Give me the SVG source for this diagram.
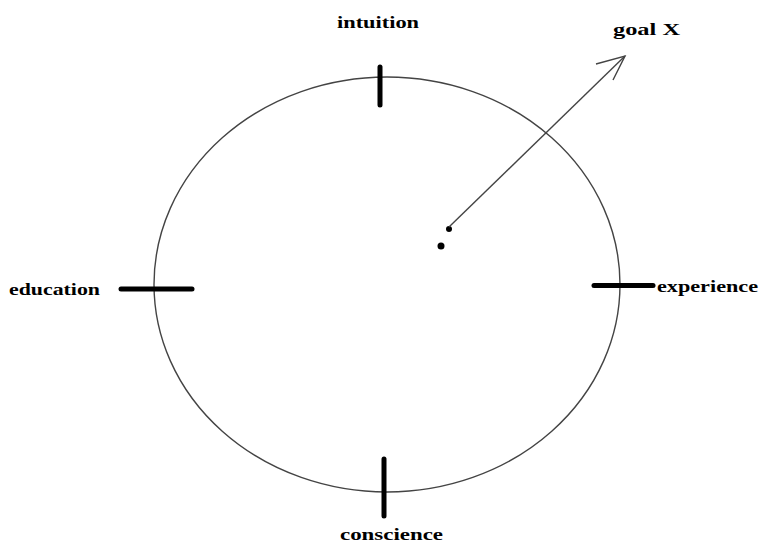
<svg xmlns="http://www.w3.org/2000/svg" width="759" height="543" viewBox="0 0 759 543">
<style>
.lbl{font-family:"Liberation Serif","Times New Roman",serif;font-weight:bold;font-size:17px;fill:#000}
.tick{stroke:#000;stroke-width:5;stroke-linecap:round}
.thin{stroke:#444;stroke-width:1.4;fill:none}
</style>
<rect width="759" height="543" fill="#fff"/>
<g id="circle"><ellipse class="thin" cx="387" cy="284.5" rx="233" ry="207.5"/></g>
<g id="intuition">
<line class="tick" x1="380" y1="67" x2="380" y2="105"/>
<text class="lbl" x="337" y="28" textLength="82" lengthAdjust="spacingAndGlyphs">intuition</text>
</g>
<g id="education">
<line class="tick" x1="121" y1="289" x2="192" y2="289"/>
<text class="lbl" x="9" y="295" textLength="91" lengthAdjust="spacingAndGlyphs">education</text>
</g>
<g id="experience">
<line class="tick" x1="594" y1="285.5" x2="653" y2="285.5"/>
<text class="lbl" x="657" y="292" textLength="101" lengthAdjust="spacingAndGlyphs">experience</text>
</g>
<g id="conscience">
<line class="tick" x1="384" y1="459" x2="384" y2="516"/>
<text class="lbl" x="340" y="540" textLength="103" lengthAdjust="spacingAndGlyphs">conscience</text>
</g>
<g id="goal">
<text class="lbl" x="613" y="35" textLength="67" lengthAdjust="spacingAndGlyphs">goal X</text>
</g>
<g id="center">
<circle cx="449" cy="229" r="3" fill="#000"/>
<circle cx="441" cy="246" r="3.5" fill="#000"/>
</g>
<g id="connectors">
<line class="thin" x1="449" y1="227" x2="625" y2="56"/>
<polyline class="thin" points="596,64 625,56 613,80"/>
</g>
</svg>
